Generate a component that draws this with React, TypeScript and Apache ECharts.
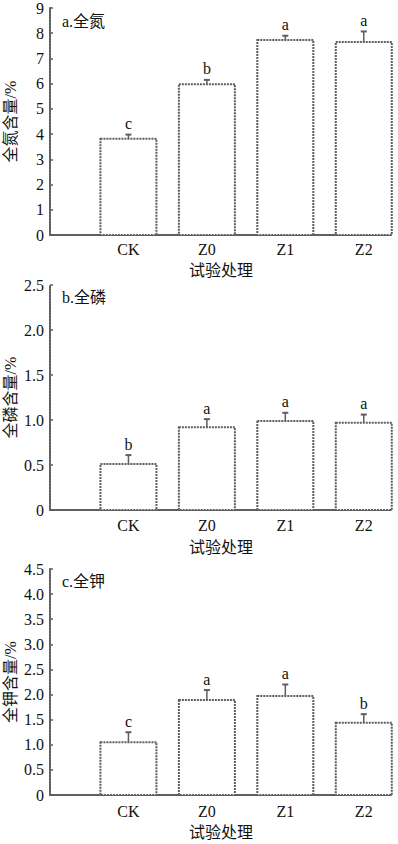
import React, { useEffect, useRef } from "react";
import * as echarts from "echarts";

const categories = ["CK", "Z0", "Z1", "Z2"];

const nitrogenValues = [3.82, 5.98, 7.73, 7.65];
const nitrogenErrors = [0.16, 0.17, 0.17, 0.42];
const nitrogenLetters = ["c", "b", "a", "a"];

const phosphorusValues = [0.51, 0.92, 0.99, 0.97];
const phosphorusErrors = [0.1, 0.09, 0.09, 0.09];
const phosphorusLetters = ["b", "a", "a", "a"];

const potassiumValues = [1.05, 1.89, 1.97, 1.44];
const potassiumErrors = [0.2, 0.2, 0.23, 0.17];
const potassiumLetters = ["c", "a", "a", "b"];

const panelTitles = ["a.全氮", "b.全磷", "c.全钾"];
const yNames = ["全氮含量/%", "全磷含量/%", "全钾含量/%"];
const yMax = [9, 2.5, 4.5];
const yInterval = [1, 0.5, 0.5];
const xTitle = "试验处理";

const FONT = "'Liberation Serif', 'Noto Sans CJK SC', serif";
const AXIS_COLOR = "#5e5e5e";
const TEXT_COLOR = "#111";
const BAR_WIDTH = 56;

const grids = [
  { top: 8, height: 227, labelMargin: 6, nameGap: 27, titleY: 21 },
  { top: 285, height: 225, labelMargin: 7, nameGap: 29, titleY: 297 },
  { top: 569, height: 226, labelMargin: 8, nameGap: 29, titleY: 581 },
];

const panels = [
  { values: nitrogenValues, errors: nitrogenErrors, letters: nitrogenLetters },
  { values: phosphorusValues, errors: phosphorusErrors, letters: phosphorusLetters },
  { values: potassiumValues, errors: potassiumErrors, letters: potassiumLetters },
];

export default function App() {
  const ref = useRef<HTMLDivElement>(null);

  useEffect(() => {
    if (!ref.current) return;
    const chart = echarts.init(ref.current, null, { renderer: "svg" });

    const option: any = {
      animation: false,
      backgroundColor: "#fff",
      grid: grids.map((g) => ({
        left: 50,
        right: 6,
        top: g.top,
        height: g.height,
        containLabel: false,
        outerBoundsMode: "none",
      })),
      xAxis: grids.map((g, i) => ({
        type: "value",
        gridIndex: i,
        min: 0,
        max: 4.36,
        interval: 1,
        splitLine: { show: false },
        axisTick: { show: false },
        axisLine: {
          show: true,
          lineStyle: { color: AXIS_COLOR, width: 2, type: [2, 1] },
        },
        axisLabel: {
          margin: g.labelMargin,
          fontFamily: FONT,
          fontSize: 16,
          color: TEXT_COLOR,
          formatter: (v: number) => {
            if (Math.abs(v - Math.round(v)) > 1e-6) return "";
            return categories[Math.round(v) - 1] ?? "";
          },
        },
        name: xTitle,
        nameLocation: "middle",
        nameGap: g.nameGap,
        nameMoveOverlap: false,
        nameTextStyle: { fontFamily: FONT, fontSize: 16, color: TEXT_COLOR },
      })),
      yAxis: grids.map((g, i) => ({
        type: "value",
        gridIndex: i,
        min: 0,
        max: yMax[i],
        interval: yInterval[i],
        splitLine: { show: false },
        axisTick: {
          show: true,
          inside: true,
          length: 3,
          lineStyle: { color: AXIS_COLOR, width: 1.5 },
        },
        axisLine: {
          show: true,
          lineStyle: { color: AXIS_COLOR, width: 2, type: [2, 1] },
        },
        axisLabel: {
          margin: 6,
          fontFamily: FONT,
          fontSize: 16,
          color: TEXT_COLOR,
          formatter: (v: number) =>
            v === 0 ? "0" : yInterval[i] < 1 ? v.toFixed(1) : String(v),
        },
        name: yNames[i],
        nameLocation: "middle",
        nameGap: 32,
        nameMoveOverlap: false,
        nameTextStyle: { fontFamily: FONT, fontSize: 16, color: TEXT_COLOR },
      })),
      graphic: grids.map((g, i) => ({
        type: "text",
        x: 62,
        y: g.titleY,
        style: {
          text: panelTitles[i],
          fontFamily: FONT,
          fontSize: 16,
          fill: TEXT_COLOR,
          verticalAlign: "middle",
          align: "left",
        },
      })),
      series: panels.map((p, i) => ({
        type: "custom",
        xAxisIndex: i,
        yAxisIndex: i,
        z: 3,
        data: p.values.map((v, k) => [k + 1, v, p.errors[k]]),
        renderItem: (params: any, api: any) => {
          const x = api.value(0);
          const v = api.value(1);
          const e = api.value(2);
          const base = api.coord([x, 0]);
          const p0 = api.coord([x, v]);
          const p1 = api.coord([x, v + e]);
          const letter = p.letters[params.dataIndex];
          return {
            type: "group",
            children: [
              {
                type: "rect",
                shape: {
                  x: p0[0] - BAR_WIDTH / 2,
                  y: p0[1],
                  width: BAR_WIDTH,
                  height: base[1] - p0[1],
                },
                style: {
                  fill: "#ffffff",
                  stroke: AXIS_COLOR,
                  lineWidth: 2,
                  lineDash: [2, 1],
                },
              },
              {
                type: "line",
                shape: { x1: p0[0], y1: p0[1], x2: p1[0], y2: p1[1] },
                style: { stroke: AXIS_COLOR, lineWidth: 1.5 },
              },
              {
                type: "line",
                shape: { x1: p1[0] - 3, y1: p1[1], x2: p1[0] + 3, y2: p1[1] },
                style: { stroke: AXIS_COLOR, lineWidth: 2 },
              },
              {
                type: "text",
                x: p1[0],
                y: p1[1] - 3,
                style: {
                  text: letter,
                  fontFamily: FONT,
                  fontSize: 16,
                  fill: TEXT_COLOR,
                  align: "center",
                  verticalAlign: "bottom",
                },
              },
            ],
          };
        },
      })),
    };

    chart.setOption(option);
    return () => chart.dispose();
  }, []);

  return (
    <div
      ref={ref}
      style={{ position: "absolute", left: 0, top: 0, width: 398, height: 844 }}
    />
  );
}
